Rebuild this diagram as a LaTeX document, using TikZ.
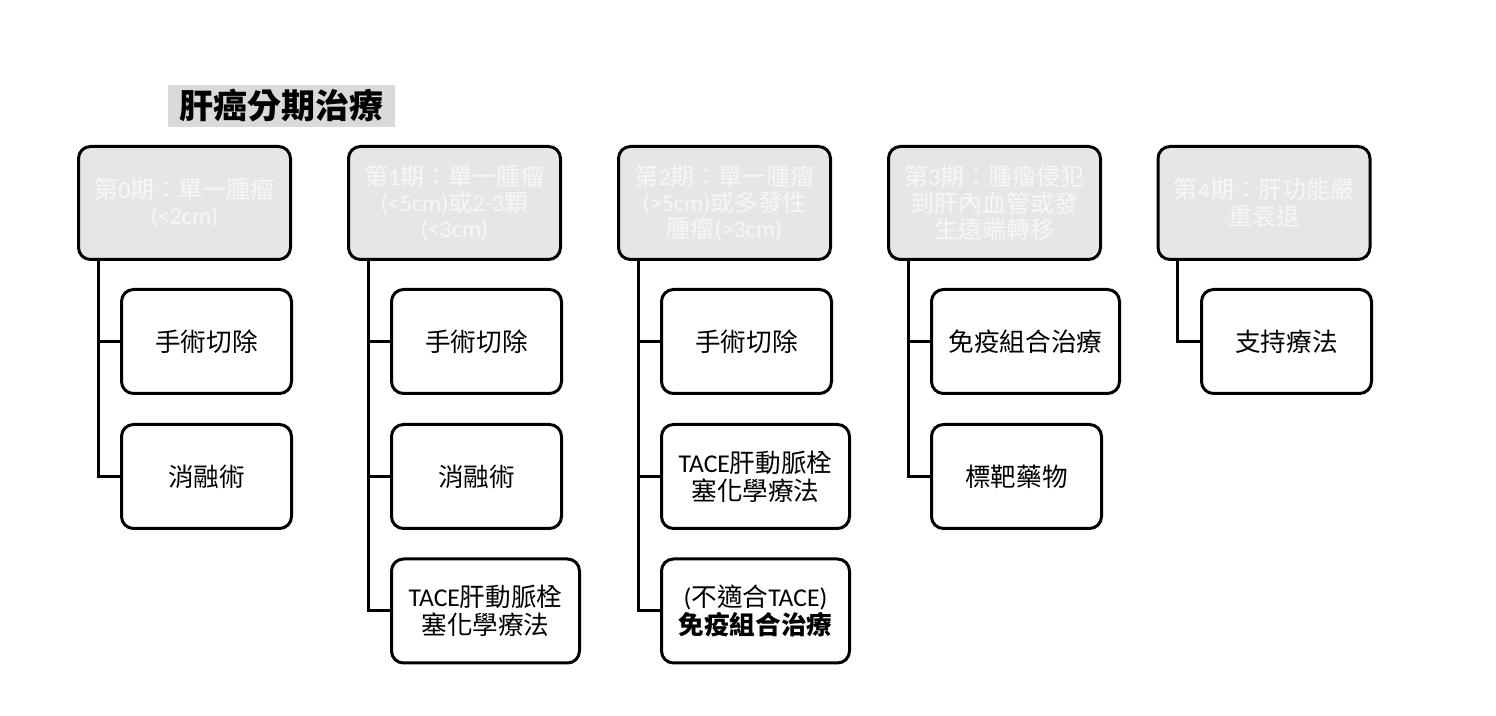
\documentclass[tikz,border=0pt]{standalone}
\usepackage{fontspec}
\setmainfont{Noto Sans CJK TC}
\newfontfamily\latinfont{Carlito}
\newcommand{\en}[1]{{\latinfont #1}}
\definecolor{stagefill}{HTML}{E7E6E6}
\definecolor{stagetext}{HTML}{F7F7F7}
\definecolor{titlefill}{HTML}{DADADA}
\begin{document}
\begin{tikzpicture}[x=0.5pt,y=-0.5pt,
	stage/.style={draw, line width=1.5pt, rounded corners=6pt, fill=stagefill, text=stagetext, minimum width=106pt, minimum height=56.5pt, inner sep=0pt, align=center, font=\fontsize{12}{13.2}\selectfont},
	treat/.style={draw, line width=1.5pt, rounded corners=6pt, minimum width=85pt, minimum height=52pt, inner sep=0pt, align=center, anchor=west, font=\fontsize{12.8}{14.2}\selectfont},
	wide/.style={minimum width=94pt},
	link/.style={line width=1.5pt}]
		\useasboundingbox (0,0) rectangle (1496,716);
		\node[fill=titlefill, minimum width=113.5pt, minimum height=21pt, inner sep=0pt, font=\fontsize{17}{20}\selectfont\bfseries] (title) at (281.5,106) {肝癌分期治療};
		\node[style=stage] (s0) at (184.5,203) {第\en{0}期：單一腫瘤\\\en{(<2cm)}};
		\node[style=stage] (s1) at (454.5,203) {第\en{1}期：單一腫瘤\\\en{(<5cm)}或\en{2-3}顆\\\en{(<3cm)}};
		\node[style=stage] (s2) at (724.5,203) {第\en{2}期：單一腫瘤\\\en{(>5cm)}或多發性\\腫瘤\en{(>3cm)}};
		\node[style=stage] (s3) at (994.5,203) {第\en{3}期：腫瘤侵犯\\到肝內血管或發\\生遠端轉移};
		\node[style=stage] (s4) at (1264,203) {第\en{4}期：肝功能嚴\\重衰退};
		\node[style=treat] (t01) at (120,341.5) {手術切除};
		\node[style=treat] (t02) at (120,476.5) {消融術};
		\node[style=treat] (t11) at (390,341.5) {手術切除};
		\node[style=treat] (t12) at (390,476.5) {消融術};
		\node[style=treat, style=wide] (t13) at (390,611) {\en{TACE}肝動脈栓\\塞化學療法};
		\node[style=treat] (t21) at (660,341.5) {手術切除};
		\node[style=treat, style=wide] (t22) at (660,476.5) {\en{TACE}肝動脈栓\\塞化學療法};
		\node[style=treat, style=wide] (t23) at (660,611) {\en{(}不適合\en{TACE)}\\\textbf{免疫組合治療}};
		\node[style=treat, style=wide] (t31) at (930,341.5) {免疫組合治療};
		\node[style=treat] (t32) at (930,476.5) {標靶藥物};
		\node[style=treat] (t41) at (1200,341.5) {支持療法};
		\draw[style=link] ([xshift=10.5pt]s0.south west) |- (t01.west);
		\draw[style=link] ([xshift=10.5pt]s0.south west) |- (t02.west);
		\draw[style=link] ([xshift=10.5pt]s1.south west) |- (t11.west);
		\draw[style=link] ([xshift=10.5pt]s1.south west) |- (t12.west);
		\draw[style=link] ([xshift=10.5pt]s1.south west) |- (t13.west);
		\draw[style=link] ([xshift=10.5pt]s2.south west) |- (t21.west);
		\draw[style=link] ([xshift=10.5pt]s2.south west) |- (t22.west);
		\draw[style=link] ([xshift=10.5pt]s2.south west) |- (t23.west);
		\draw[style=link] ([xshift=10.5pt]s3.south west) |- (t31.west);
		\draw[style=link] ([xshift=10.5pt]s3.south west) |- (t32.west);
		\draw[style=link] ([xshift=10.5pt]s4.south west) |- (t41.west);
\end{tikzpicture}
\end{document}
